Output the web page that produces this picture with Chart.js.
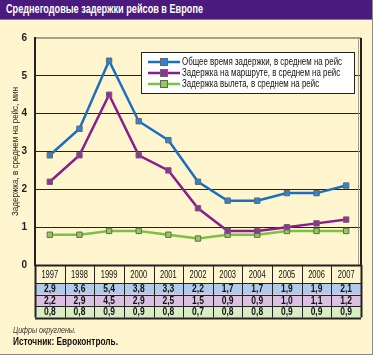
<!DOCTYPE html>
<html><head><meta charset="utf-8">
<script src="https://cdn.jsdelivr.net/npm/chart.js@4"></script>
<style>
html,body{margin:0;padding:0;background:#fff;}
#wrap{position:relative;width:372px;height:354px;background:#fff5cf;border-right:1px solid #8a8a8a;border-bottom:1px solid #8a8a8a;overflow:hidden;}
#title{position:absolute;left:0;top:0;width:372px;height:19px;background:#4a1a7e;border-bottom:1px solid #8a70a8;}
#title span{position:absolute;left:6px;top:0;color:#fff;font:bold 12px 'Liberation Sans',sans-serif;line-height:19px;white-space:nowrap;transform-origin:0 50%;}
#c{position:absolute;left:0;top:0;}
.note{position:absolute;left:13px;font-family:'Liberation Sans',sans-serif;color:#111;white-space:nowrap;transform-origin:0 50%;}
</style></head>
<body>
<div id="wrap">
<canvas id="c" width="372" height="354"></canvas>
<div id="title"><span data-w="197">Среднегодовые задержки рейсов в Европе</span></div>
<div class="note" data-w="63" style="top:325px;font-size:9px;font-style:italic;color:#333">Цифры округлены.</div>
<div class="note" data-w="105" style="top:335px;font-size:10.5px;font-weight:bold">Источник: Евроконтроль.</div>
</div>
<script>
const years = ['1997','1998','1999','2000','2001','2002','2003','2004','2005','2006','2007'];
const totalDelay = [2.9,3.6,5.4,3.8,3.3,2.2,1.7,1.7,1.9,1.9,2.1];
const routeDelay = [2.2,2.9,4.5,2.9,2.5,1.5,0.9,0.9,1.0,1.1,1.2];
const departDelay = [0.8,0.8,0.9,0.9,0.8,0.7,0.8,0.8,0.9,0.9,0.9];
const seriesNames = ['Общее время задержки, в среднем на рейс','Задержка на маршруте, в среднем на рейс','Задержка вылета, в среднем на рейс'];
const yTitle = 'Задержка, в среднем на рейс, мин';

document.querySelectorAll('[data-w]').forEach(el => {
  const w = el.getBoundingClientRect().width;
  el.style.transform = 'scaleX(' + (parseFloat(el.dataset.w) / w) + ')';
});

const FONT = "'Liberation Sans',sans-serif";
const rowFills = ['#b3cbeb','#dcc0e2','#d9edc4'];
const fmt = v => v.toFixed(1).replace('.', ',');

function sText(ctx, text, x, y, sx) {
  ctx.save();
  ctx.translate(x, y);
  ctx.scale(sx, 1);
  ctx.fillText(text, 0, 0);
  ctx.restore();
}

const extras = {
  id: 'extras',
  beforeDatasetsDraw(chart) {
    const ctx = chart.ctx, a = chart.chartArea;
    ctx.save();
    ctx.strokeStyle = '#a89f88'; ctx.lineWidth = 1;
    ctx.beginPath(); ctx.moveTo(a.right - 2.5, a.top); ctx.lineTo(a.right - 2.5, a.bottom); ctx.stroke();
    ctx.strokeStyle = '#222'; ctx.lineWidth = 2;
    ctx.beginPath(); ctx.moveTo(a.right, a.top); ctx.lineTo(a.right, a.bottom); ctx.stroke();
    ctx.translate(15, (a.top + a.bottom) / 2);
    ctx.rotate(-Math.PI / 2);
    ctx.fillStyle = '#222';
    ctx.font = '9.5px ' + FONT;
    ctx.textAlign = 'center'; ctx.textBaseline = 'middle';
    const sx = 129 / ctx.measureText(yTitle).width;
    sText(ctx, yTitle, 0, 0, sx);
    ctx.restore();
  },
  afterDatasetsDraw(chart) {
    const ctx = chart.ctx;
    const ds = chart.data.datasets;
    ctx.save();
    const lx = 141, ly = 52, lw = 213, lh = 41;
    ctx.fillStyle = '#fff';
    ctx.fillRect(lx, ly, lw, lh);
    ctx.strokeStyle = '#222'; ctx.lineWidth = 1;
    ctx.strokeRect(lx + 0.5, ly + 0.5, lw, lh);
    ctx.font = '10px ' + FONT;
    ctx.textBaseline = 'middle'; ctx.textAlign = 'left';
    const sx = 160 / ctx.measureText(ds[0].label).width;
    ds.forEach((d, i) => {
      const y = ly + 10 + i * 11;
      ctx.strokeStyle = d.borderColor; ctx.lineWidth = 2.5;
      ctx.beginPath(); ctx.moveTo(lx + 7, y); ctx.lineTo(lx + 39, y); ctx.stroke();
      ctx.fillStyle = d.pointBackgroundColor;
      ctx.fillRect(lx + 19.5, y - 3.5, 7, 7);
      ctx.strokeStyle = '#666'; ctx.lineWidth = 1;
      ctx.strokeRect(lx + 19.5, y - 3.5, 7, 7);
      ctx.fillStyle = '#111';
      sText(ctx, d.label, lx + 41, y + 0.5, sx);
    });
    ctx.restore();
  },
  afterDraw(chart) {
    const ctx = chart.ctx, a = chart.chartArea;
    const n = years.length;
    const cw = (a.right - a.left) / n;
    const top = a.bottom, hH = 18, rH = 11.5;
    const rows = [totalDelay, routeDelay, departDelay];
    ctx.save();
    rows.forEach((r, i) => {
      ctx.fillStyle = rowFills[i];
      ctx.fillRect(a.left, top + hH + i * rH, a.right - a.left, rH);
    });
    ctx.strokeStyle = '#222';
    const bottom = top + hH + 3 * rH;
    [top, top + hH, top + hH + rH, top + hH + 2 * rH, bottom].forEach((y, k) => {
      ctx.lineWidth = (k === 0 || k === 4) ? 2 : 1;
      ctx.beginPath(); ctx.moveTo(a.left, Math.round(y) + 0.5); ctx.lineTo(a.right, Math.round(y) + 0.5); ctx.stroke();
    });
    for (let k = 0; k <= n; k++) {
      const x = Math.round(a.left + k * cw) + 0.5;
      ctx.lineWidth = (k === 0 || k === n) ? 2 : 1;
      ctx.beginPath(); ctx.moveTo(x, top); ctx.lineTo(x, bottom); ctx.stroke();
    }
    ctx.fillStyle = '#111';
    ctx.textAlign = 'center'; ctx.textBaseline = 'middle';
    const xs = chart.scales.x;
    years.forEach((yr, k) => {
      const cx = xs.getPixelForValue(k);
      ctx.font = '10.5px ' + FONT;
      sText(ctx, yr, cx, top + hH / 2 + 1, 0.72);
      ctx.font = 'bold 10px ' + FONT;
      rows.forEach((r, i) => sText(ctx, fmt(r[k]), cx, top + hH + i * rH + rH / 2 + 0.5, 0.85));
    });
    ctx.restore();
  }
};

const mk = (label, data, line, fill) => ({
  label, data,
  borderColor: line, backgroundColor: fill,
  pointBackgroundColor: fill, pointBorderColor: '#666',
  pointStyle: 'rect', pointRadius: 3.8, pointBorderWidth: 1,
  borderWidth: 2.5, tension: 0
});

new Chart(document.getElementById('c'), {
  type: 'line',
  data: {
    labels: years,
    datasets: [
      mk(seriesNames[0], totalDelay, '#1b6fc0', '#2b85d6'),
      mk(seriesNames[1], routeDelay, '#8a1c8c', '#9b2c9e'),
      mk(seriesNames[2], departDelay, '#7dc142', '#8fcd50')
    ]
  },
  options: {
    responsive: false, animation: false,
    layout: { padding: { left: 0, top: 38, right: 11, bottom: 89 } },
    plugins: { legend: { display: false }, tooltip: { enabled: false } },
    scales: {
      x: { type: 'category', offset: true, display: false },
      y: {
        min: 0, max: 6,
        afterFit: s => { s.width = 35; },
        ticks: { stepSize: 1, padding: 8, color: '#222', font: { family: FONT, size: 10, weight: 'bold' } },
        grid: { drawTicks: false, color: c => c.tick.value === 6 ? '#a89f88' : '#222', lineWidth: c => c.tick.value === 6 ? 2 : 1 },
        border: { display: true, color: '#222', width: 2 }
      }
    }
  },
  plugins: [extras]
});
</script>
</body></html>
